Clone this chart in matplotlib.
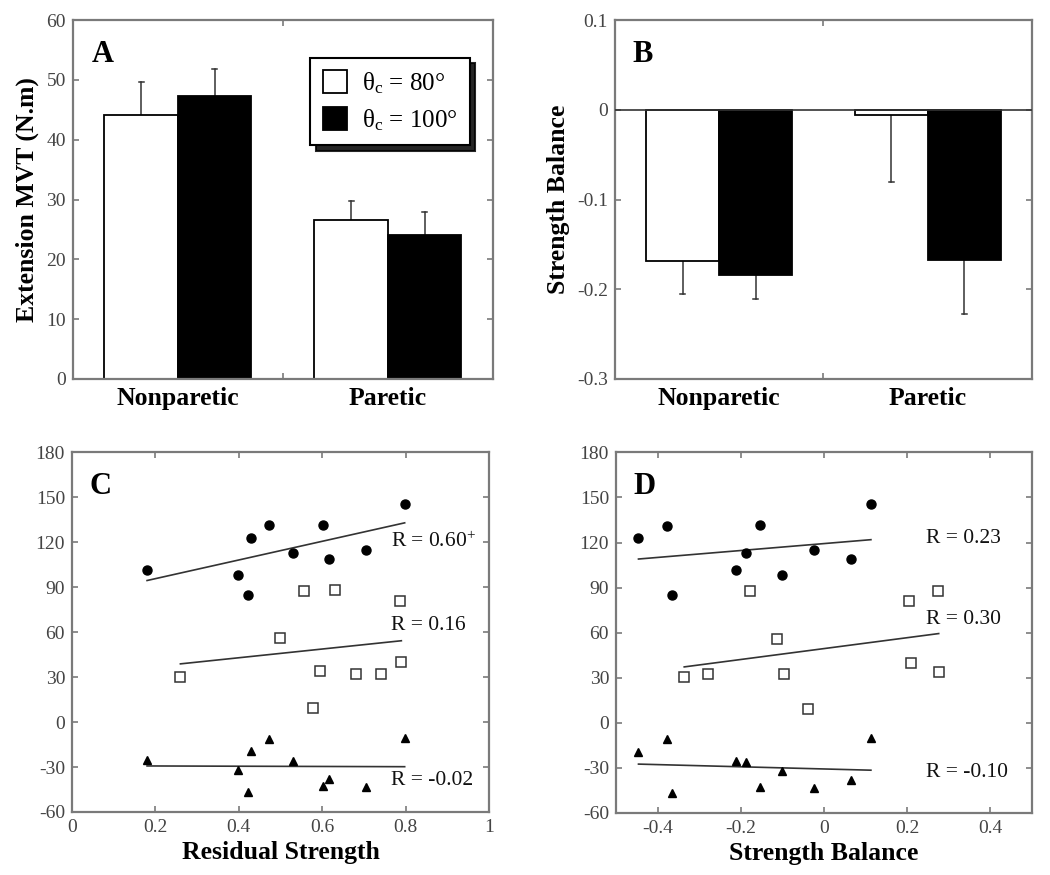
import numpy as np
import matplotlib
matplotlib.use("Agg")
import matplotlib.pyplot as plt

plt.rcParams['font.family'] = ['Liberation Serif', 'DejaVu Serif']
plt.rcParams['mathtext.fontset'] = 'custom'
plt.rcParams['mathtext.rm'] = 'Liberation Serif'
plt.rcParams['mathtext.it'] = 'Liberation Serif:italic'
plt.rcParams['axes.unicode_minus'] = False

# ---------------- data ----------------
groups = ['Nonparetic', 'Paretic']
legend_labels = ['θ$_{\\rm c}$ = 80°', 'θ$_{\\rm c}$ = 100°']

mvt_80 = [44.2, 26.5]
mvt_80_err = [5.4, 3.3]
mvt_100 = [47.3, 24.1]
mvt_100_err = [4.6, 3.8]

bal_80 = [-0.169, -0.006]
bal_80_err = [0.036, 0.075]
bal_100 = [-0.184, -0.168]
bal_100_err = [0.027, 0.060]

# per-subject values (same y in C and D)
circ_y = [101.8, 122.7, 131.3, 131.8, 112.9, 108.9, 115.1, 145.8, 98.4, 85.1]
tri_y = [-25.6, -19.6, -11.1, -42.9, -26.2, -37.8, -43.3, -10.4, -31.8, -46.7]
sq_y = [87.8, 88.0, 80.9, 55.8, 30.4, 34.0, 32.4, 32.4, 40.0, 9.3]

# panel C x: residual strength
circ_xc = [0.180, 0.429, 0.473, 0.601, 0.531, 0.617, 0.706, 0.798, 0.399, 0.421]
sq_xc = [0.556, 0.630, 0.786, 0.500, 0.260, 0.595, 0.681, 0.741, 0.790, 0.579]
# panel D x: strength balance
circ_xd = [-0.212, -0.446, -0.377, -0.154, -0.187, 0.064, -0.023, 0.113, -0.102, -0.366]
sq_xd = [-0.178, 0.274, 0.204, -0.112, -0.336, 0.276, -0.278, -0.095, 0.210, -0.038]

r_text_c = ['R = 0.60$^{+}$', 'R = 0.16', 'R = -0.02']
r_text_d = ['R = 0.23', 'R = 0.30', 'R = -0.10']

SPINE = '#7a7a7a'
TICKC = '#444444'
LABEL_FS = 18.5

fig = plt.figure(figsize=(10.5, 8.75), dpi=100)
axA = fig.add_axes([0.0695, 0.567, 0.400, 0.410])
axB = fig.add_axes([0.5857, 0.567, 0.397, 0.410])
axC = fig.add_axes([0.0686, 0.072, 0.397, 0.411])
axD = fig.add_axes([0.5867, 0.071, 0.396, 0.412])


def style(ax):
    for s in ax.spines.values():
        s.set_color(SPINE)
        s.set_linewidth(1.6)
    ax.tick_params(which='major', direction='in', length=4, width=1.2, color=SPINE,
                   top=True, right=True, labelsize=14, labelcolor=TICKC, pad=5)


def bars(ax, v1, e1, v2, e2, up=True):
    x = np.array([0.5, 1.5])
    w = 0.35
    ax.bar(x - w / 2, v1, w, color='white', edgecolor='black', linewidth=1.3, zorder=2)
    ax.bar(x + w / 2, v2, w, color='black', edgecolor='black', linewidth=1.3, zorder=2)
    sgn = 1 if up else -1
    for xs, v, e in [(x - w / 2, v1, e1), (x + w / 2, v2, e2)]:
        for xi, vi, ei in zip(xs, v, e):
            ax.plot([xi, xi], [vi, vi + sgn * ei], color='#333333', lw=1.1, zorder=1)
            ax.plot([xi - 0.012, xi + 0.012], [vi + sgn * ei] * 2, color='#333333', lw=1.1, zorder=1)
    ax.set_xlim(0, 2)
    ax.set_xticks([0, 1, 2])
    ax.set_xticklabels([])
    ax.set_xticks(x, minor=True)
    ax.set_xticklabels(groups, minor=True, fontsize=LABEL_FS, fontweight='bold')
    ax.tick_params(which='minor', length=0, pad=6)


# ---- A ----
style(axA)
bars(axA, mvt_80, mvt_80_err, mvt_100, mvt_100_err, up=True)
axA.set_ylim(0, 60)
axA.set_yticks(range(0, 61, 10))
axA.set_ylabel('Extension MVT (N.m)', fontsize=LABEL_FS, fontweight='bold', labelpad=5)
axA.text(0.045, 0.905, 'A', transform=axA.transAxes, fontsize=22, fontweight='bold', va='center')
leg = axA.legend(axA.containers[:2], legend_labels, loc='upper right', bbox_to_anchor=(0.974, 0.93),
                 fontsize=18, frameon=True, fancybox=False, edgecolor='black',
                 shadow={'color': 'black', 'alpha': 0.85, 'ox': 4, 'oy': -4},
                 handlelength=0.95, handleheight=1.0, handletextpad=0.6, borderpad=0.5,
                 labelspacing=0.45)
leg.get_frame().set_linewidth(1.5)

# ---- B ----
style(axB)
bars(axB, bal_80, bal_80_err, bal_100, bal_100_err, up=False)
axB.axhline(0, color='#333333', lw=1.2, zorder=3)
axB.set_ylim(-0.3, 0.1)
axB.set_yticks([-0.3, -0.2, -0.1, 0, 0.1])
axB.set_yticklabels(['-0.3', '-0.2', '-0.1', '0', '0.1'])
axB.set_ylabel('Strength Balance', fontsize=LABEL_FS, fontweight='bold', labelpad=5)
axB.text(0.043, 0.905, 'B', transform=axB.transAxes, fontsize=22, fontweight='bold', va='center')


def scatter_panel(ax, cx, sx, texts, tx, ty):
    style(ax)
    ax.plot(cx, circ_y, 'o', color='black', ms=6.5, zorder=3)
    ax.plot(sx, sq_y, 's', mfc='white', mec='#333333', mew=1.1, ms=6.5, zorder=3)
    ax.plot(cx, tri_y, '^', color='black', ms=5.5, zorder=3)
    for xs, ys in [(cx, circ_y), (sx, sq_y), (cx, tri_y)]:
        k, b = np.polyfit(xs, ys, 1)
        xl = np.array([min(xs), max(xs)])
        ax.plot(xl, k * xl + b, color='#333333', lw=1.2, zorder=2)
    for t, yy in zip(texts, ty):
        ax.text(tx, yy, t, fontsize=15.5, va='center', ha='left', color='#111111')
    ax.set_ylim(-60, 180)
    ax.set_yticks(range(-60, 181, 30))


scatter_panel(axC, circ_xc, sq_xc, r_text_c, 0.765, [120, 64.5, -39])
axC.set_xlim(0, 1)
axC.set_xticks([0, 0.2, 0.4, 0.6, 0.8, 1])
axC.set_xticklabels(['0', '0.2', '0.4', '0.6', '0.8', '1'])
axC.set_xlabel('Residual Strength', fontsize=LABEL_FS, fontweight='bold', labelpad=4)
axC.text(0.043, 0.905, 'C', transform=axC.transAxes, fontsize=22, fontweight='bold', va='center')

scatter_panel(axD, circ_xd, sq_xd, r_text_d, 0.245, [122.5, 69, -33])
axD.set_xlim(-0.5, 0.5)
axD.set_xticks([-0.4, -0.2, 0, 0.2, 0.4])
axD.set_xticklabels(['-0.4', '-0.2', '0', '0.2', '0.4'])
axD.set_xlabel('Strength Balance', fontsize=LABEL_FS, fontweight='bold', labelpad=4)
axD.text(0.043, 0.905, 'D', transform=axD.transAxes, fontsize=22, fontweight='bold', va='center')

fig.savefig('out.png', dpi=100, facecolor='white')
